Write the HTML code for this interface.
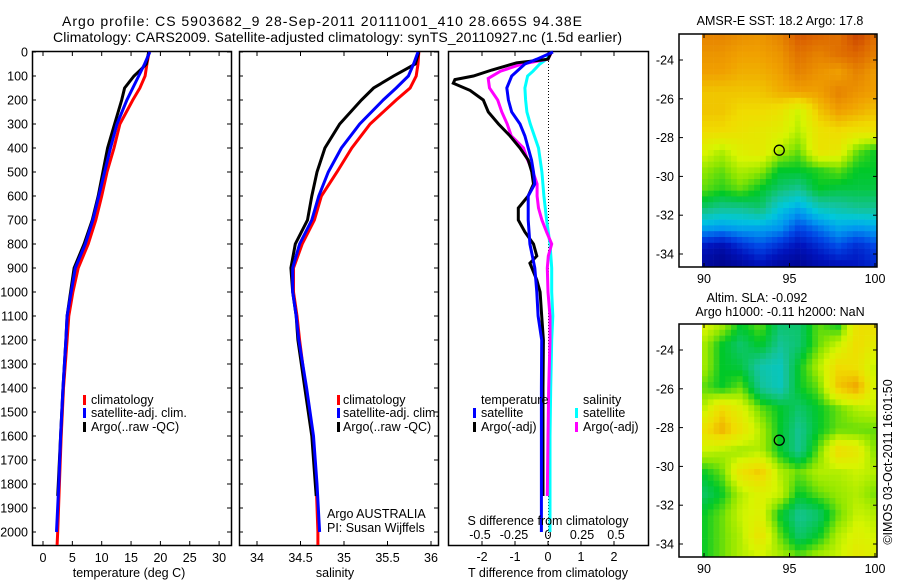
<!DOCTYPE html>
<html><head><meta charset="utf-8">
<style>
html,body{margin:0;padding:0;background:#fff;}
svg{display:block;font-family:"Liberation Sans",sans-serif;}
text{font-size:12.5px;fill:#000;}
</style></head>
<body>
<svg id="fig" width="900" height="580" viewBox="0 0 900 580" xmlns="http://www.w3.org/2000/svg">
<text x="62" y="26" textLength="520" style="font-size:14px">Argo profile: CS 5903682_9 28-Sep-2011 20111001_410 28.665S 94.38E</text>
<text x="53" y="42" textLength="569" style="font-size:14px">Climatology: CARS2009. Satellite-adjusted climatology: synTS_20110927.nc (1.5d earlier)</text>
<g id="g"></g>
</svg>
<script>
// ---- profile data ----
const depthClim = [0,50,100,150,200,300,400,500,600,700,800,900,1000,1100,1200,1400,1600,1800,2000,2054];
const depthSat = [0,50,100,150,200,300,400,500,600,700,800,900,1000,1100,1200,1400,1600,1800,2000];
const depthArgo = [0,50,70,100,150,200,300,400,500,600,700,800,900,1000,1100,1200,1400,1600,1800,1850];
const tempClim = [18.1,17.7,17.4,16.5,15.3,13.1,12.1,10.9,10.0,9.0,7.7,6.0,5.1,4.4,4.1,3.5,3.1,2.8,2.5,2.4];
const tempSat = [18.2,17.3,16.3,15.3,14.3,12.6,11.5,10.5,9.5,8.5,7.2,5.5,4.8,4.1,3.9,3.4,3.0,2.7,2.3];
const tempArgo = [18.0,17.6,16.8,15.5,13.9,13.4,12.2,11.0,10.2,9.4,8.4,7.0,5.3,4.7,4.1,3.9,3.4,3.0,2.6,2.5];
const salClim = [35.86,35.85,35.83,35.76,35.6,35.3,35.09,34.92,34.74,34.66,34.52,34.42,34.42,34.46,34.49,34.56,34.64,34.68,34.7,34.7];
const salSat = [35.85,35.8,35.74,35.6,35.45,35.18,34.97,34.82,34.71,34.63,34.49,34.41,34.41,34.45,34.48,34.57,34.65,34.69,34.72];
const salArgo = [35.86,35.82,35.72,35.57,35.34,35.2,34.95,34.78,34.69,34.63,34.58,34.44,34.39,34.41,34.45,34.47,34.55,34.63,34.67,34.68];
const depthDTArgo = [0,30,45,75,100,115,130,160,200,250,300,350,400,450,500,550,600,650,700,750,800,850,880,950,1000,1100,1200,1400,1600,1850];
const dTempArgo = [0.1,0.0,-0.95,-1.7,-2.26,-2.82,-2.87,-2.36,-1.96,-1.81,-1.5,-1.15,-0.85,-0.6,-0.49,-0.44,-0.6,-0.9,-0.9,-0.7,-0.44,-0.34,-0.55,-0.34,-0.24,-0.19,-0.14,-0.15,-0.15,-0.15];
const depthDTSat = [0,30,50,100,150,200,250,300,350,400,450,500,550,600,700,800,900,1000,1100,1200,1400,1600,1800,2000];
const dTempSat = [0.15,-0.34,-0.7,-1.1,-1.25,-1.2,-1.1,-0.85,-0.7,-0.6,-0.5,-0.44,-0.4,-0.6,-0.6,-0.55,-0.4,-0.34,-0.3,-0.19,-0.2,-0.2,-0.2,-0.2];
const depthDSArgo = [0,30,50,80,110,150,200,250,300,350,400,450,500,550,600,650,700,750,800,850,900,1000,1100,1200,1400,1600,1850];
const dSalArgo = [0.027,0.0,-0.19,-0.35,-0.44,-0.43,-0.37,-0.34,-0.3,-0.27,-0.18,-0.15,-0.11,-0.08,-0.08,-0.07,-0.045,-0.01,0.027,0.002,-0.005,0.0,0.015,0.015,0.005,0.0,-0.005];
const depthDSSat = [0,30,50,80,100,150,200,250,300,350,400,500,600,700,800,900,1000,1100,1200,1400,1600,1800,2000];
const dSalSat = [0.027,-0.01,-0.06,-0.11,-0.15,-0.17,-0.165,-0.155,-0.13,-0.1,-0.07,-0.045,-0.03,-0.01,0.015,0.027,0.027,0.035,0.027,0.02,0.015,0.015,0.015];
const depthTicks = [0,100,200,300,400,500,600,700,800,900,1000,1100,1200,1300,1400,1500,1600,1700,1800,1900,2000];
const tempTicks = [0,5,10,15,20,25,30];
const salTicks = [34,34.5,35,35.5,36];
const dTTicks = [-2,-1,0,1,2];
const dSTicks = [-0.5,-0.25,0,0.25,0.5];
const dSTickLabels = ["-0.5","-0.25","0","0.25","0.5"];
// ---- map fields (rows north->south, cols west->east) ----
const sstField = [
[.85,.85,.83,.82,.85,.92,.9,.88,.95,.88],
[.82,.82,.8,.8,.82,.88,.85,.88,.9,.85],
[.8,.8,.78,.78,.8,.85,.82,.8,.85,.8],
[.75,.75,.75,.75,.78,.8,.8,.85,.82,.8],
[.75,.75,.72,.72,.7,.62,.75,.8,.78,.75],
[.72,.72,.7,.68,.66,.6,.7,.72,.7,.7],
[.65,.6,.66,.68,.6,.55,.7,.68,.55,.5],
[.58,.55,.6,.58,.5,.5,.52,.55,.5,.5],
[.55,.52,.55,.5,.45,.42,.5,.48,.48,.48],
[.45,.42,.42,.45,.35,.3,.38,.4,.42,.42],
[.3,.28,.3,.3,.28,.2,.25,.3,.28,.3],
[.12,.08,.15,.2,.15,.1,.15,.2,.15,.2],
[.05,.02,.05,.1,.05,.03,.08,.1,.12,.15]];
const slaField = [
[.65,.6,.5,.55,.45,.45,.55,.5,.7,.72],
[.6,.5,.45,.5,.42,.45,.55,.62,.72,.65],
[.6,.5,.48,.4,.38,.5,.6,.72,.7,.6],
[.55,.5,.55,.42,.38,.5,.55,.75,.8,.6],
[.6,.72,.65,.55,.5,.45,.5,.55,.6,.62],
[.7,.78,.7,.6,.5,.42,.5,.55,.55,.55],
[.62,.6,.58,.6,.5,.42,.55,.72,.68,.55],
[.5,.55,.7,.75,.6,.55,.6,.6,.62,.6],
[.45,.5,.6,.65,.62,.5,.55,.58,.6,.55],
[.5,.55,.62,.65,.5,.42,.45,.55,.62,.6],
[.5,.55,.6,.7,.55,.45,.5,.6,.65,.62],
[.5,.55,.6,.62,.6,.55,.6,.62,.68,.65]];
const lonTicks = [90,95,100];
const latTicks = [-24,-26,-28,-30,-32,-34];
const argoLon = 94.4, argoLat = -28.65;

const NS="http://www.w3.org/2000/svg";
const G=document.getElementById('g');
function el(tag,attrs,parent){const e=document.createElementNS(NS,tag);for(const k in attrs)e.setAttribute(k,attrs[k]);(parent||G).appendChild(e);return e;}
function txt(x,y,s,anchor,parent,size){const t=el('text',{x:x,y:y,'text-anchor':anchor||'start'},parent);if(size)t.style.fontSize=size+'px';t.textContent=s;return t;}

const yD = d => 52 + 0.24*d;
const PT=52, PB=545;
const xT = v => 43 + 5.87*v;
const xS = v => 257 + 87*(v-34);
const xDT = v => 548 + 33*v;
const xDS = v => 548 + 136*v;

function frame(x0,x1,name){
  const r=el('rect',{x:x0+0.5,y:PT-0.5,width:x1-x0,height:PB-PT+1,fill:'none',stroke:'#000','stroke-width':1.5});
  
  
}
function yTicks(x0,x1){
  depthTicks.forEach(d=>{const y=yD(d);
    el('line',{x1:x0,x2:x0+4,y1:y,y2:y,stroke:'#000'});
    el('line',{x1:x1-4,x2:x1,y1:y,y2:y,stroke:'#000'});});
}
function xTicks(vals,fx,labels,ly){
  vals.forEach((v,i)=>{const x=fx(v);
    el('line',{x1:x,x2:x,y1:PT,y2:PT+4,stroke:'#000'});
    el('line',{x1:x,x2:x,y1:PB-4,y2:PB,stroke:'#000'});
    const t=txt(x,ly,labels?labels[i]:String(v),'middle');
    
    });
}
function series(ds,vs,fx,color,name){
  let d='';ds.forEach((dep,i)=>{d+=(i?'L':'M')+fx(vs[i]).toFixed(1)+','+yD(dep).toFixed(1);});
  const p=el('path',{d:d,fill:'none',stroke:color,'stroke-width':3,'stroke-linejoin':'miter'});
  
  
}
function legend(mx,tx,y,color,label,name){
  const g=el('g',{});
  
  
  el('rect',{x:mx,y:y-9,width:3,height:10,fill:color},g);
  txt(tx,y,label,'start',g);
}

// Panel 1: temperature
frame(32,231,'temperature-panel');
yTicks(32,231);
depthTicks.forEach(d=>{const t=txt(28,yD(d)+4.5,String(d),'end');
  
  });
xTicks(tempTicks,xT,null,562);
series(depthClim,tempClim,xT,'#ff0000','temp-climatology-line');
series(depthArgo,tempArgo,xT,'#000000','temp-argo-line');
series(depthSat,tempSat,xT,'#0000ff','temp-satellite-line');
legend(83,91,404,'#ff0000','climatology','temp-legend-climatology');
legend(83,91,417,'#0000ff','satellite-adj. clim.','temp-legend-satellite');
legend(83,91,431,'#000000','Argo(..raw -QC)','temp-legend-argo');
let t=txt(129,577,'temperature (deg C)','middle');



// Panel 2: salinity
frame(239,438,'salinity-panel');
yTicks(239,438);
xTicks(salTicks,xS,null,562);
series(depthClim,salClim,xS,'#ff0000','sal-climatology-line');
series(depthArgo,salArgo,xS,'#000000','sal-argo-line');
series(depthSat,salSat,xS,'#0000ff','sal-satellite-line');
legend(337,343,404,'#ff0000','climatology','sal-legend-climatology');
legend(337,343,417,'#0000ff','satellite-adj. clim.','sal-legend-satellite');
legend(337,343,431,'#000000','Argo(..raw -QC)','sal-legend-argo');
t=txt(327,518,'Argo AUSTRALIA');
t=txt(327,532,'PI: Susan Wijffels');
t=txt(335,577,'salinity','middle');

// Panel 3: differences
frame(448,648,'difference-panel');
dTTicks.forEach(v=>{const x=xDT(v);
  el('line',{x1:x,x2:x,y1:PT,y2:PT+4,stroke:'#000'});
  el('line',{x1:x,x2:x,y1:PB-4,y2:PB,stroke:'#000'});
  const tt=txt(x,561,String(v),'middle');
  
  });
dSTicks.forEach((v,i)=>{const tt=txt(xDS(v),539,dSTickLabels[i],'middle');
  
  });
el('line',{x1:548.5,x2:548.5,y1:PT,y2:PB,stroke:'#000','stroke-dasharray':'1,2','stroke-width':1});
series(depthDSSat,dSalSat,xDS,'#00ffff','s-diff-satellite-line');
series(depthDSArgo,dSalArgo,xDS,'#ff00ff','s-diff-argo-line');
series(depthDTArgo,dTempArgo,xDT,'#000000','t-diff-argo-line');
series(depthDTSat,dTempSat,xDT,'#0000ff','t-diff-satellite-line');
t=txt(481,404,'temperature');
t=txt(583,404,'salinity');
legend(473,481,417,'#0000ff','satellite','diff-legend-t-satellite');
legend(473,481,431,'#000000','Argo(-adj)','diff-legend-t-argo');
legend(575,583,417,'#00ffff','satellite','diff-legend-s-satellite');
legend(575,583,431,'#ff00ff','Argo(-adj)','diff-legend-s-argo');
t=txt(548,525,'S difference from climatology','middle');
t=txt(548,577,'T difference from climatology','middle');

// ---- maps ----
const stops=[[0,[0,0,128]],[0.12,[0,20,190]],[0.2,[0,70,230]],[0.28,[0,150,240]],[0.35,[0,200,220]],[0.42,[20,195,150]],[0.5,[0,200,40]],[0.57,[140,230,0]],[0.63,[215,245,0]],[0.72,[240,220,0]],[0.8,[240,160,0]],[0.9,[220,100,0]],[1,[180,30,0]]];
function cmap(v){v=Math.max(0,Math.min(1,v));for(let i=1;i<stops.length;i++){if(v<=stops[i][0]){const a=stops[i-1],b=stops[i];const f=(v-a[0])/(b[0]-a[0]);const c=a[1].map((q,k)=>Math.round(q+(b[1][k]-q)*f));return 'rgb('+c.join(',')+')';}}return 'rgb(180,30,0)';}
function sample(F,u,v){const R=F.length,C=F[0].length;const x=Math.max(0,Math.min(C-1,u*(C-1))),y=Math.max(0,Math.min(R-1,v*(R-1)));const x0=Math.floor(x),y0=Math.floor(y),x1=Math.min(C-1,x0+1),y1=Math.min(R-1,y0+1);const fx=x-x0,fy=y-y0;return F[y0][x0]*(1-fx)*(1-fy)+F[y0][x1]*fx*(1-fy)+F[y1][x0]*(1-fx)*fy+F[y1][x1]*fx*fy;}
function drawMap(F,top,name,titleLines){
  const fx0=679,fx1=877,bot=top+233;
  const lonX=lon=>704+17.1*(lon-90);
  const latY=lat=>top+26+19.4*(-24-lat);
  const g=el('g',{});
  
  
  const ix0=702,ix1=fx1, cw=5.8, ch=5.8;
  for(let y=top;y<bot;y+=ch){for(let x=ix0;x<ix1;x+=cw){
    const v=sample(F,(x+cw/2-ix0)/(ix1-ix0),(y+ch/2-top)/(bot-top));
    el('rect',{x:x.toFixed(1),y:y.toFixed(1),width:(Math.min(cw,ix1-x)+0.3).toFixed(1),height:(Math.min(ch,bot-y)+0.3).toFixed(1),fill:cmap(v)},g);}}
  el('rect',{x:fx0,y:top,width:fx1-fx0,height:bot-top,fill:'none',stroke:'#000','stroke-width':1.5},g);
  lonTicks.forEach(l=>{const x=lonX(l);el('line',{x1:x,x2:x,y1:bot,y2:bot-4,stroke:'#000'},g);el('line',{x1:x,x2:x,y1:top,y2:top+4,stroke:'#000'},g);
    const tt=txt(x,bot+16,String(l),'middle',g);});
  latTicks.forEach(l=>{const y=latY(l);el('line',{x1:fx0,x2:fx0+4,y1:y,y2:y,stroke:'#000'},g);el('line',{x1:fx1-4,x2:fx1,y1:y,y2:y,stroke:'#000'},g);
    const tt=txt(674,y+4.5,String(l),'end',g);});
  const c=el('circle',{cx:lonX(argoLon),cy:latY(argoLat),r:5,fill:'none',stroke:'#000','stroke-width':1.3},g);
  
  
  titleLines.forEach(tl=>{const tt=txt(tl[0],tl[1],tl[2],'middle',g);});
}
drawMap(sstField,34,'sst-map',[[780,25,'AMSR-E SST: 18.2 Argo: 17.8']]);
drawMap(slaField,324,'sla-map',[[757,302,'Altim. SLA: -0.092'],[780,316,'Argo h1000: -0.11 h2000: NaN']]);
t=txt(0,0,'©IMOS 03-Oct-2011 16:01:50','middle');
t.setAttribute('transform','translate(892,462) rotate(-90)');


</script>
</body></html>
